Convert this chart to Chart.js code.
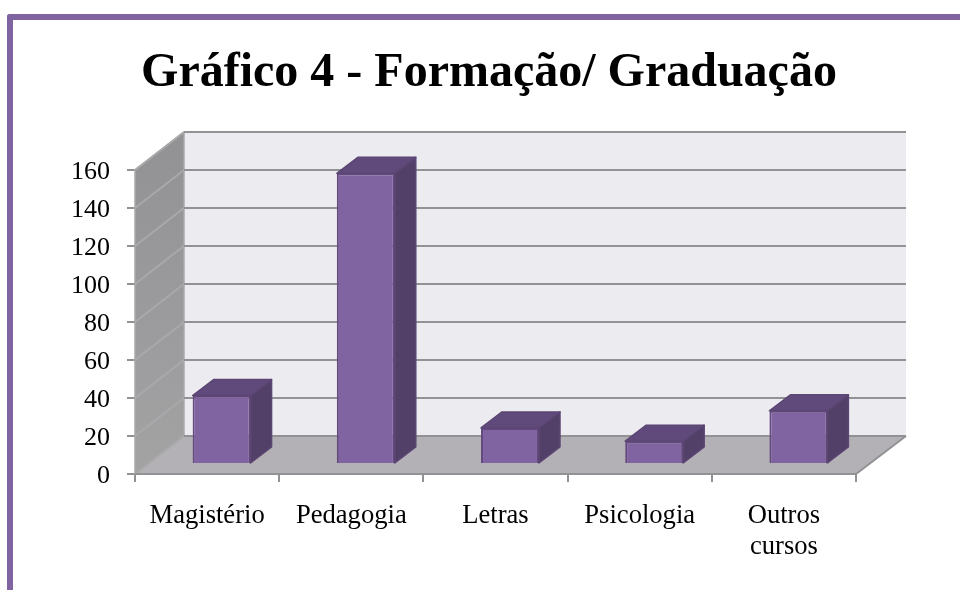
<!DOCTYPE html>
<html>
<head>
<meta charset="utf-8">
<title>Gráfico 4</title>
<script src="https://cdn.jsdelivr.net/npm/chart.js@4/dist/chart.umd.min.js"></script>
<style>
  html, body { margin: 0; padding: 0; background: #fff; }
  #page { position: relative; width: 960px; height: 590px; overflow: hidden; }
  #frame {
    position: absolute; left: 7px; top: 14px; width: 960px; height: 600px;
    border-left: 6px solid #8064a2; border-top: 6px solid #8064a2;
    border-top-left-radius: 3px;
  }
  #chart { position: absolute; left: 0; top: 0; }
</style>
</head>
<body>
<div id="page">
  <div id="frame"></div>
  <canvas id="chart" width="960" height="590"></canvas>
</div>
<script>
const TITLE = "Gráfico 4 - Formação/ Graduação";
const categories = ["Magistério", "Pedagogia", "Letras", "Psicologia", ["Outros", "cursos"]];
const values = [36, 153, 19, 12, 28];
const yTicks = [0, 20, 40, 60, 80, 100, 120, 140, 160];

const FONT = "'Liberation Serif', 'Times New Roman', serif";
const GRID = "#929294";
const GRID_SIDE = "#a9a9ab";

// depth of the fake 3d box, and of one bar
const BOX_DX = 49, BOX_DY = -38;
const BOX_EXTRA_RIGHT = 1;
const BAR_SHIFT_X = 14.5, BAR_SHIFT_Y = -10;
const BAR_DX = 21, BAR_DY = -16;

function poly(ctx, pts, fill, stroke) {
  ctx.beginPath();
  ctx.moveTo(pts[0][0], pts[0][1]);
  for (let i = 1; i < pts.length; i++) ctx.lineTo(pts[i][0], pts[i][1]);
  ctx.closePath();
  ctx.fillStyle = fill;
  ctx.fill();
  if (stroke) {
    ctx.strokeStyle = stroke;
    ctx.lineWidth = 1.5;
    ctx.lineJoin = "round";
    ctx.stroke();
  }
}

const box3d = {
  id: "box3d",
  afterLayout(chart) {
    // title is centred on the frame, not on the canvas
    chart.titleBlock.left = 18;
    chart.titleBlock.right = 960;
  },
  beforeDatasetsDraw(chart) {
    const ctx = chart.ctx;
    const y = chart.scales.y;
    const a = chart.chartArea;
    const x0 = a.left, x1 = a.right, top = a.top, bot = a.bottom;
    const bx0 = x0 + BOX_DX, bx1 = x1 + BOX_DX + BOX_EXTRA_RIGHT;

    ctx.save();
    poly(ctx, [[bx0, top + BOX_DY], [bx1, top + BOX_DY], [bx1, bot + BOX_DY], [bx0, bot + BOX_DY]], "#ecebf0");

    const side = ctx.createLinearGradient(0, top + BOX_DY, 0, bot);
    side.addColorStop(0, "#929295");
    side.addColorStop(1, "#a3a3a4");
    poly(ctx, [[x0, top], [bx0, top + BOX_DY], [bx0, bot + BOX_DY], [x0, bot]], side, GRID_SIDE);
    poly(ctx, [[x0, bot], [bx0, bot + BOX_DY], [bx1, bot + BOX_DY], [x1, bot]], "#b3b1b5");

    ctx.lineWidth = 2;
    yTicks.forEach(function (v) {
      const py = y.getPixelForValue(v);
      ctx.strokeStyle = GRID_SIDE;
      ctx.beginPath();
      ctx.moveTo(x0, py);
      ctx.lineTo(bx0, py + BOX_DY);
      ctx.stroke();
      ctx.strokeStyle = GRID;
      ctx.beginPath();
      ctx.moveTo(bx0, py + BOX_DY);
      ctx.lineTo(bx1, py + BOX_DY);
      ctx.stroke();
    });
    // top edge of the back wall and the floor's front edge
    ctx.strokeStyle = GRID;
    ctx.beginPath();
    ctx.moveTo(bx0, top + BOX_DY);
    ctx.lineTo(bx1, top + BOX_DY);
    ctx.moveTo(bx1, bot + BOX_DY);
    ctx.lineTo(x1, bot);
    ctx.lineTo(x0, bot);
    ctx.stroke();
    ctx.restore();
  },
  beforeDatasetDraw(chart) {
    chart.ctx.save();
    chart.ctx.translate(BAR_SHIFT_X, BAR_SHIFT_Y);
  },
  afterDatasetDraw(chart, args) {
    const ctx = chart.ctx;
    args.meta.data.forEach(function (bar) {
      const l = bar.x - bar.width / 2, r = bar.x + bar.width / 2;
      poly(ctx, [[r, bar.y], [r + BAR_DX, bar.y + BAR_DY], [r + BAR_DX, bar.base + BAR_DY], [r, bar.base]], "#534068", "#5b4674");
      poly(ctx, [[l, bar.y], [l + BAR_DX, bar.y + BAR_DY], [r + BAR_DX, bar.y + BAR_DY], [r, bar.y]], "#604a7b", "#5b4674");
    });
    ctx.restore();
  },
};

new Chart(document.getElementById("chart"), {
  type: "bar",
  plugins: [box3d],
  data: {
    labels: categories,
    datasets: [{
      data: values,
      backgroundColor: "#8064a2",
      borderColor: "#64497f",
      borderWidth: 2,
      categoryPercentage: 1,
      barPercentage: 0.402,
    }],
  },
  options: {
    responsive: false,
    animation: false,
    layout: { padding: { left: 0, right: 104, top: 0, bottom: 0 } },
    plugins: {
      legend: { display: false },
      tooltip: { enabled: false },
      title: {
        display: true,
        text: TITLE,
        color: "#000",
        font: { family: FONT, size: 48, weight: "bold", lineHeight: 1.2 },
        padding: { top: 45, bottom: 67.4 },
      },
    },
    scales: {
      x: {
        grid: { drawOnChartArea: false, tickLength: 8, color: GRID, lineWidth: 2 },
        border: { display: false },
        ticks: {
          color: "#000",
          font: { family: FONT, size: 26.6, lineHeight: 31 / 26.6 },
          padding: 19,
          autoSkip: false,
          maxRotation: 0,
        },
        afterFit(scale) { scale.height = 116; },
      },
      y: {
        min: 0,
        max: 160,
        grid: { drawOnChartArea: false, tickLength: 8, color: GRID, lineWidth: 2 },
        border: { display: false },
        ticks: {
          color: "#000",
          stepSize: 20,
          font: { family: FONT, size: 26 },
          padding: 17,
          labelOffset: 2,
        },
        afterFit(scale) { scale.width = 135; },
      },
    },
  },
});
</script>
</body>
</html>
